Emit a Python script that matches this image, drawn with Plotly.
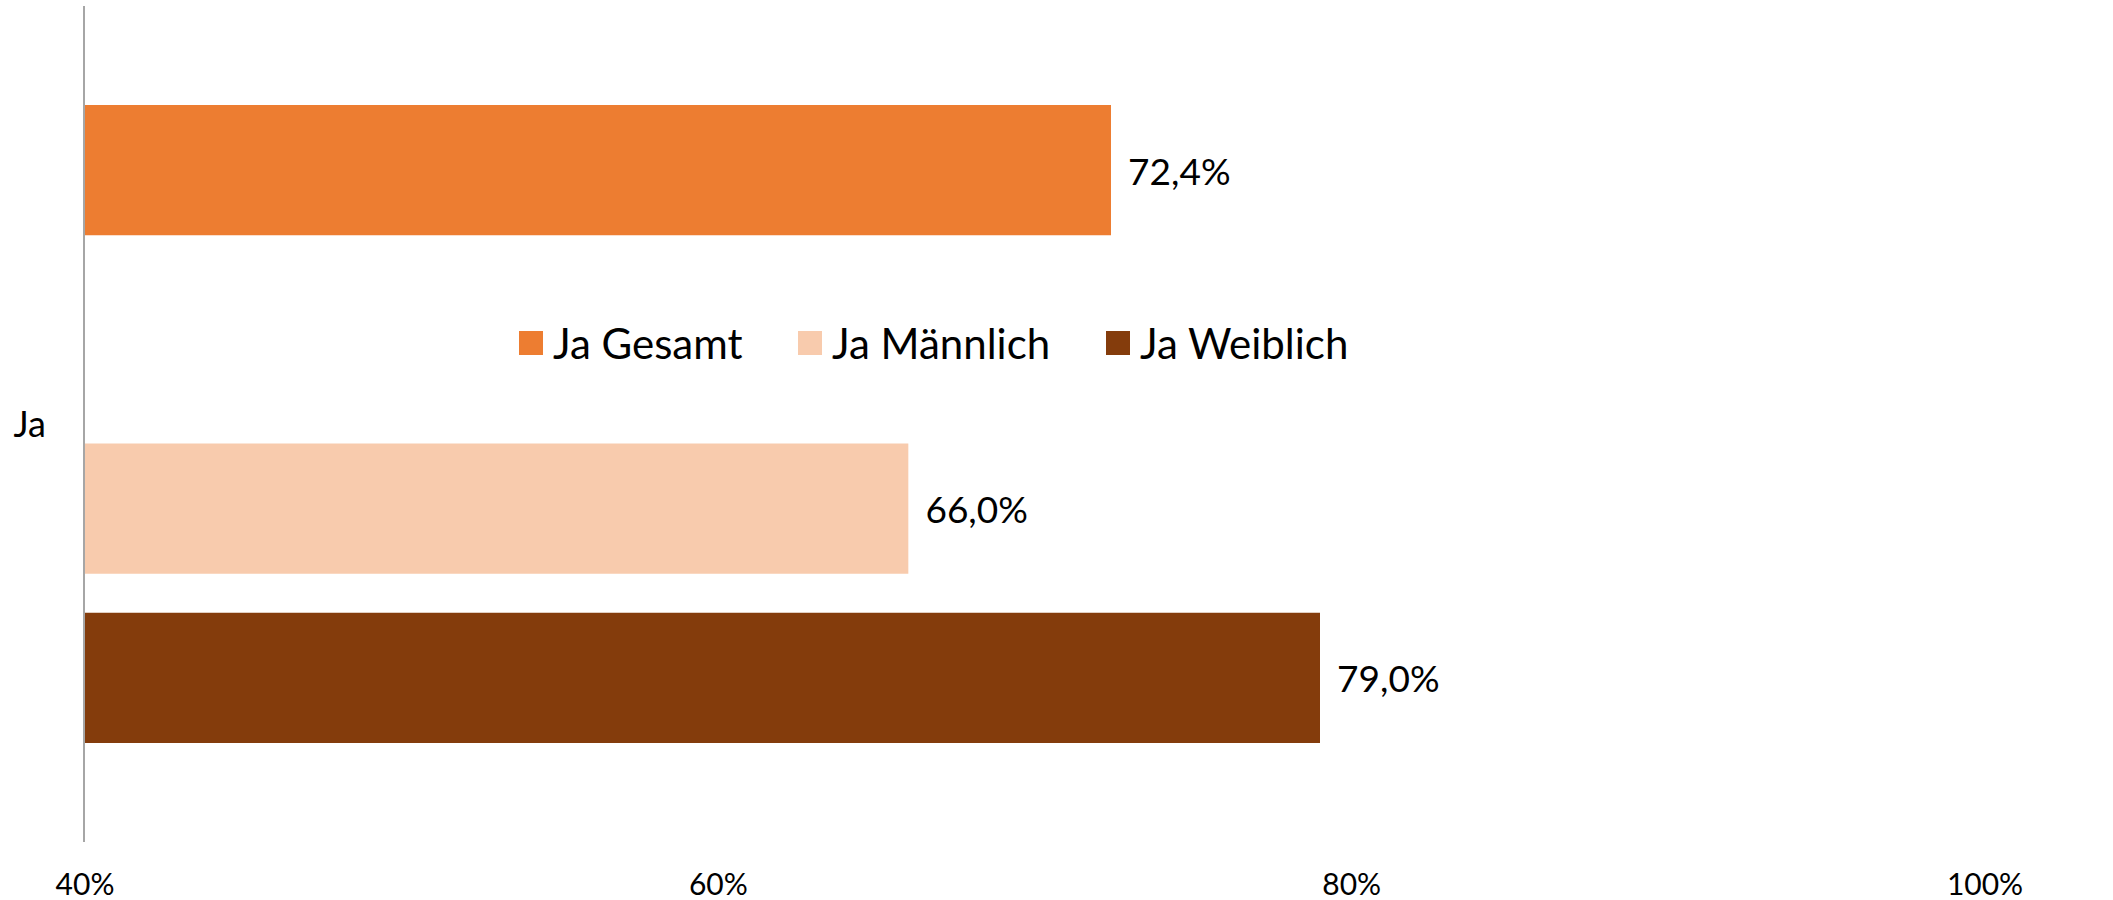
import plotly.graph_objects as go

categories = ["Ja"]
series_names = ["Ja Gesamt", "Ja Männlich", "Ja Weiblich"]
values_gesamt = [72.4]
values_maennlich = [66.0]
values_weiblich = [79.0]
value_labels_gesamt = ["72,4%"]
value_labels_maennlich = ["66,0%"]
value_labels_weiblich = ["79,0%"]
tick_values = [40, 60, 80, 100]
tick_labels = ["40%", "60%", "80%", "100%"]

colors = ["#ED7D31", "#F8CBAD", "#843C0C"]
FONT = "Lato"

W, H = 2113, 900
ML, MR, MT, MB = 85, 128, 6, 58
PW, PH = W - ML - MR, H - MT - MB

fig = go.Figure()

def add_bar(name, vals, labels, color):
    fig.add_trace(go.Bar(
        name=name, y=categories, x=vals, orientation="h",
        marker=dict(color=color, line=dict(width=0)),
        text=[" \u2009" + t for t in labels],
        textposition="outside", cliponaxis=False,
        textfont=dict(family=FONT, size=37, color="#000000"),
        showlegend=False, hoverinfo="skip",
    ))

add_bar(series_names[0], values_gesamt, value_labels_gesamt, colors[0])
# empty slot (as in original chart)
fig.add_trace(go.Bar(name="", y=categories, x=[None], orientation="h",
                     showlegend=False, marker=dict(color="rgba(0,0,0,0)")))
add_bar(series_names[1], values_maennlich, value_labels_maennlich, colors[1])
add_bar(series_names[2], values_weiblich, value_labels_weiblich, colors[2])

# Legend (drawn as squares + text to match the original's large swatches)
legend_square_px = [519, 798, 1106]
legend_y_px = 343
sq = 24
for name, color, xpx in zip(series_names, colors, legend_square_px):
    x0 = (xpx - ML) / PW
    x1 = (xpx + sq - ML) / PW
    y0 = (H - MB - (legend_y_px + sq / 2)) / PH
    y1 = (H - MB - (legend_y_px - sq / 2)) / PH
    fig.add_shape(type="rect", xref="paper", yref="paper", x0=x0, x1=x1, y0=y0, y1=y1,
                  fillcolor=color, line=dict(width=0), layer="above")
    fig.add_annotation(xref="paper", yref="paper", x=(xpx + sq + 8 - ML) / PW,
                       y=(H - MB - legend_y_px) / PH, text=name, showarrow=False,
                       xanchor="left", yanchor="middle",
                       font=dict(family=FONT, size=42, color="#000000"))

fig.update_layout(
    width=W, height=H,
    margin=dict(l=ML, r=MR, t=MT, b=MB, autoexpand=False),
    paper_bgcolor="white", plot_bgcolor="white",
    barmode="group", bargap=0.19, bargroupgap=0.23,
    font=dict(family=FONT, size=36, color="#000000"),
    showlegend=False,
    xaxis=dict(range=[40, 100], tickvals=tick_values, ticktext=tick_labels,
               showgrid=False, zeroline=False, showline=False, ticks="",
               automargin=False,
               tickfont=dict(family=FONT, size=30, color="#000000"),
               ticklabelstandoff=22),
    yaxis=dict(autorange="reversed", showgrid=False, zeroline=False,
               showline=True, linecolor="#A6A6A6", linewidth=2, ticks="",
               automargin=False,
               tickfont=dict(family=FONT, size=36, color="#000000"),
               ticklabelstandoff=30),
)

fig.write_html("out.html",
               config={"displayModeBar": False},
               post_script="document.body.style.margin='0';document.body.style.overflow='hidden';")
